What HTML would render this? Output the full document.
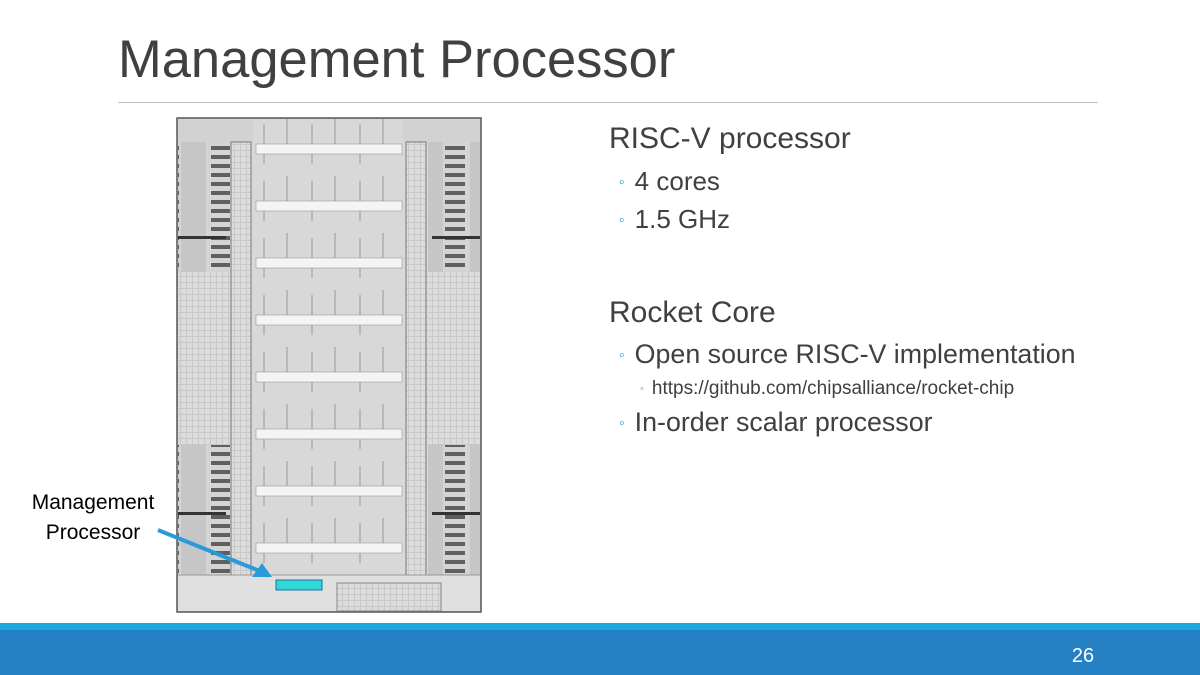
<!DOCTYPE html>
<html><head><meta charset="utf-8"><style>
html,body{margin:0;padding:0;background:#fff;}
body{width:1200px;height:675px;position:relative;overflow:hidden;font-family:"Liberation Sans",sans-serif;}
.t{position:absolute;color:#404040;white-space:nowrap;}
.b{font-size:16px;color:#2a9ad8;vertical-align:3px;margin-right:10px}
</style></head><body>
<div class="t" style="left:118px;top:29px;font-size:52.5px;color:#404040;">Management Processor</div>
<div style="position:absolute;left:118px;top:102px;width:980px;height:1px;background:#bfbfbf"></div>

<div class="t" style="left:609px;top:122px;font-size:30px;">RISC-V processor</div>
<div class="t" style="left:619px;top:166px;font-size:26px;"><span class="b">◦</span>4 cores</div>
<div class="t" style="left:619px;top:204px;font-size:26px;"><span class="b">◦</span>1.5 GHz</div>
<div class="t" style="left:609px;top:296px;font-size:30px;">Rocket Core</div>
<div class="t" style="left:619px;top:339px;font-size:26.8px;"><span class="b">◦</span>Open source RISC-V implementation</div>
<div class="t" style="left:640px;top:378px;font-size:19px;"><span style="font-size:11px;color:#2a9ad8;vertical-align:2px;margin-right:8px">◦</span>https://github.com/chipsalliance/rocket-chip</div>
<div class="t" style="left:619px;top:407px;font-size:26.8px;"><span class="b">◦</span>In-order scalar processor</div>

<div class="t" style="left:22px;top:488px;font-size:21px;color:#000;text-align:center;width:142px;line-height:30px">Management<br>Processor</div>

<svg style="position:absolute;left:0;top:0" width="1200" height="675">
<defs>
<pattern id="grid" width="6" height="6" patternUnits="userSpaceOnUse"><rect width="6" height="6" fill="#dcdcdc"/><path d="M0 .5H6M.5 0V6" stroke="#c8c8c8" stroke-width="1"/></pattern>
<pattern id="dark" width="52" height="9" patternUnits="userSpaceOnUse"><rect width="52" height="9" fill="#d4d4d4"/><rect x="3" y="2" width="20" height="4" fill="#606060"/><rect x="25" y="0" width="25" height="9" fill="#c6c6c6"/></pattern>
<pattern id="darkR" width="52" height="9" patternUnits="userSpaceOnUse"><rect width="52" height="9" fill="#d4d4d4"/><rect x="29" y="2" width="20" height="4" fill="#606060"/><rect x="2" y="0" width="25" height="9" fill="#c6c6c6"/></pattern>
<pattern id="vline" width="48" height="57" patternUnits="userSpaceOnUse"><rect width="48" height="57" fill="#d8d8d8"/><path d="M24 10V50M47 5V40" stroke="#888" stroke-width="0.8"/></pattern>
</defs>
<rect x="177" y="118" width="304" height="494" fill="#d8d8d8" stroke="#555" stroke-width="1.5"/>
<rect x="178" y="119" width="302" height="23" fill="#d2d2d2"/>
<rect x="178" y="142" width="52" height="130" fill="url(#dark)"/>
<rect x="178" y="272" width="52" height="173" fill="url(#grid)"/>
<rect x="178" y="445" width="52" height="130" fill="url(#dark)"/>
<rect x="428" y="142" width="52" height="130" fill="url(#darkR)"/>
<rect x="428" y="272" width="52" height="173" fill="url(#grid)"/>
<rect x="428" y="445" width="52" height="130" fill="url(#darkR)"/>
<rect x="178" y="236" width="48" height="3" fill="#333"/><rect x="178" y="512" width="48" height="3" fill="#333"/>
<rect x="432" y="236" width="48" height="3" fill="#333"/><rect x="432" y="512" width="48" height="3" fill="#333"/>
<rect x="231" y="142" width="20" height="433" fill="url(#grid)" stroke="#777" stroke-width="1"/>
<rect x="406" y="142" width="20" height="433" fill="url(#grid)" stroke="#777" stroke-width="1"/>
<rect x="253" y="119" width="150" height="456" fill="url(#vline)"/>
<g fill="#f4f4f4" stroke="#999" stroke-width="0.6">
<rect x="256" y="144" width="146" height="10"/><rect x="256" y="201" width="146" height="10"/>
<rect x="256" y="258" width="146" height="10"/><rect x="256" y="315" width="146" height="10"/>
<rect x="256" y="372" width="146" height="10"/><rect x="256" y="429" width="146" height="10"/>
<rect x="256" y="486" width="146" height="10"/><rect x="256" y="543" width="146" height="10"/>
</g>
<rect x="178" y="575" width="302" height="36" fill="#e0e0e0"/>
<line x1="178" y1="575" x2="480" y2="575" stroke="#999"/>
<rect x="337" y="583" width="104" height="28" fill="url(#grid)" stroke="#888"/>
<rect x="276" y="580" width="46" height="10" fill="#30d8d8" stroke="#1a6fa0"/>
<line x1="158" y1="530" x2="262" y2="572" stroke="#2a9ad8" stroke-width="4"/>
<polygon points="272,577 252,577 262,563" fill="#2a9ad8"/>
<rect x="0" y="623" width="1200" height="7" fill="#1ea8e0"/>
<rect x="0" y="630" width="1200" height="45" fill="#2580c4"/>
<text x="1083" y="662" font-family="Liberation Sans, sans-serif" font-size="20" fill="#fff" text-anchor="middle">26</text>
</svg>
</body></html>
